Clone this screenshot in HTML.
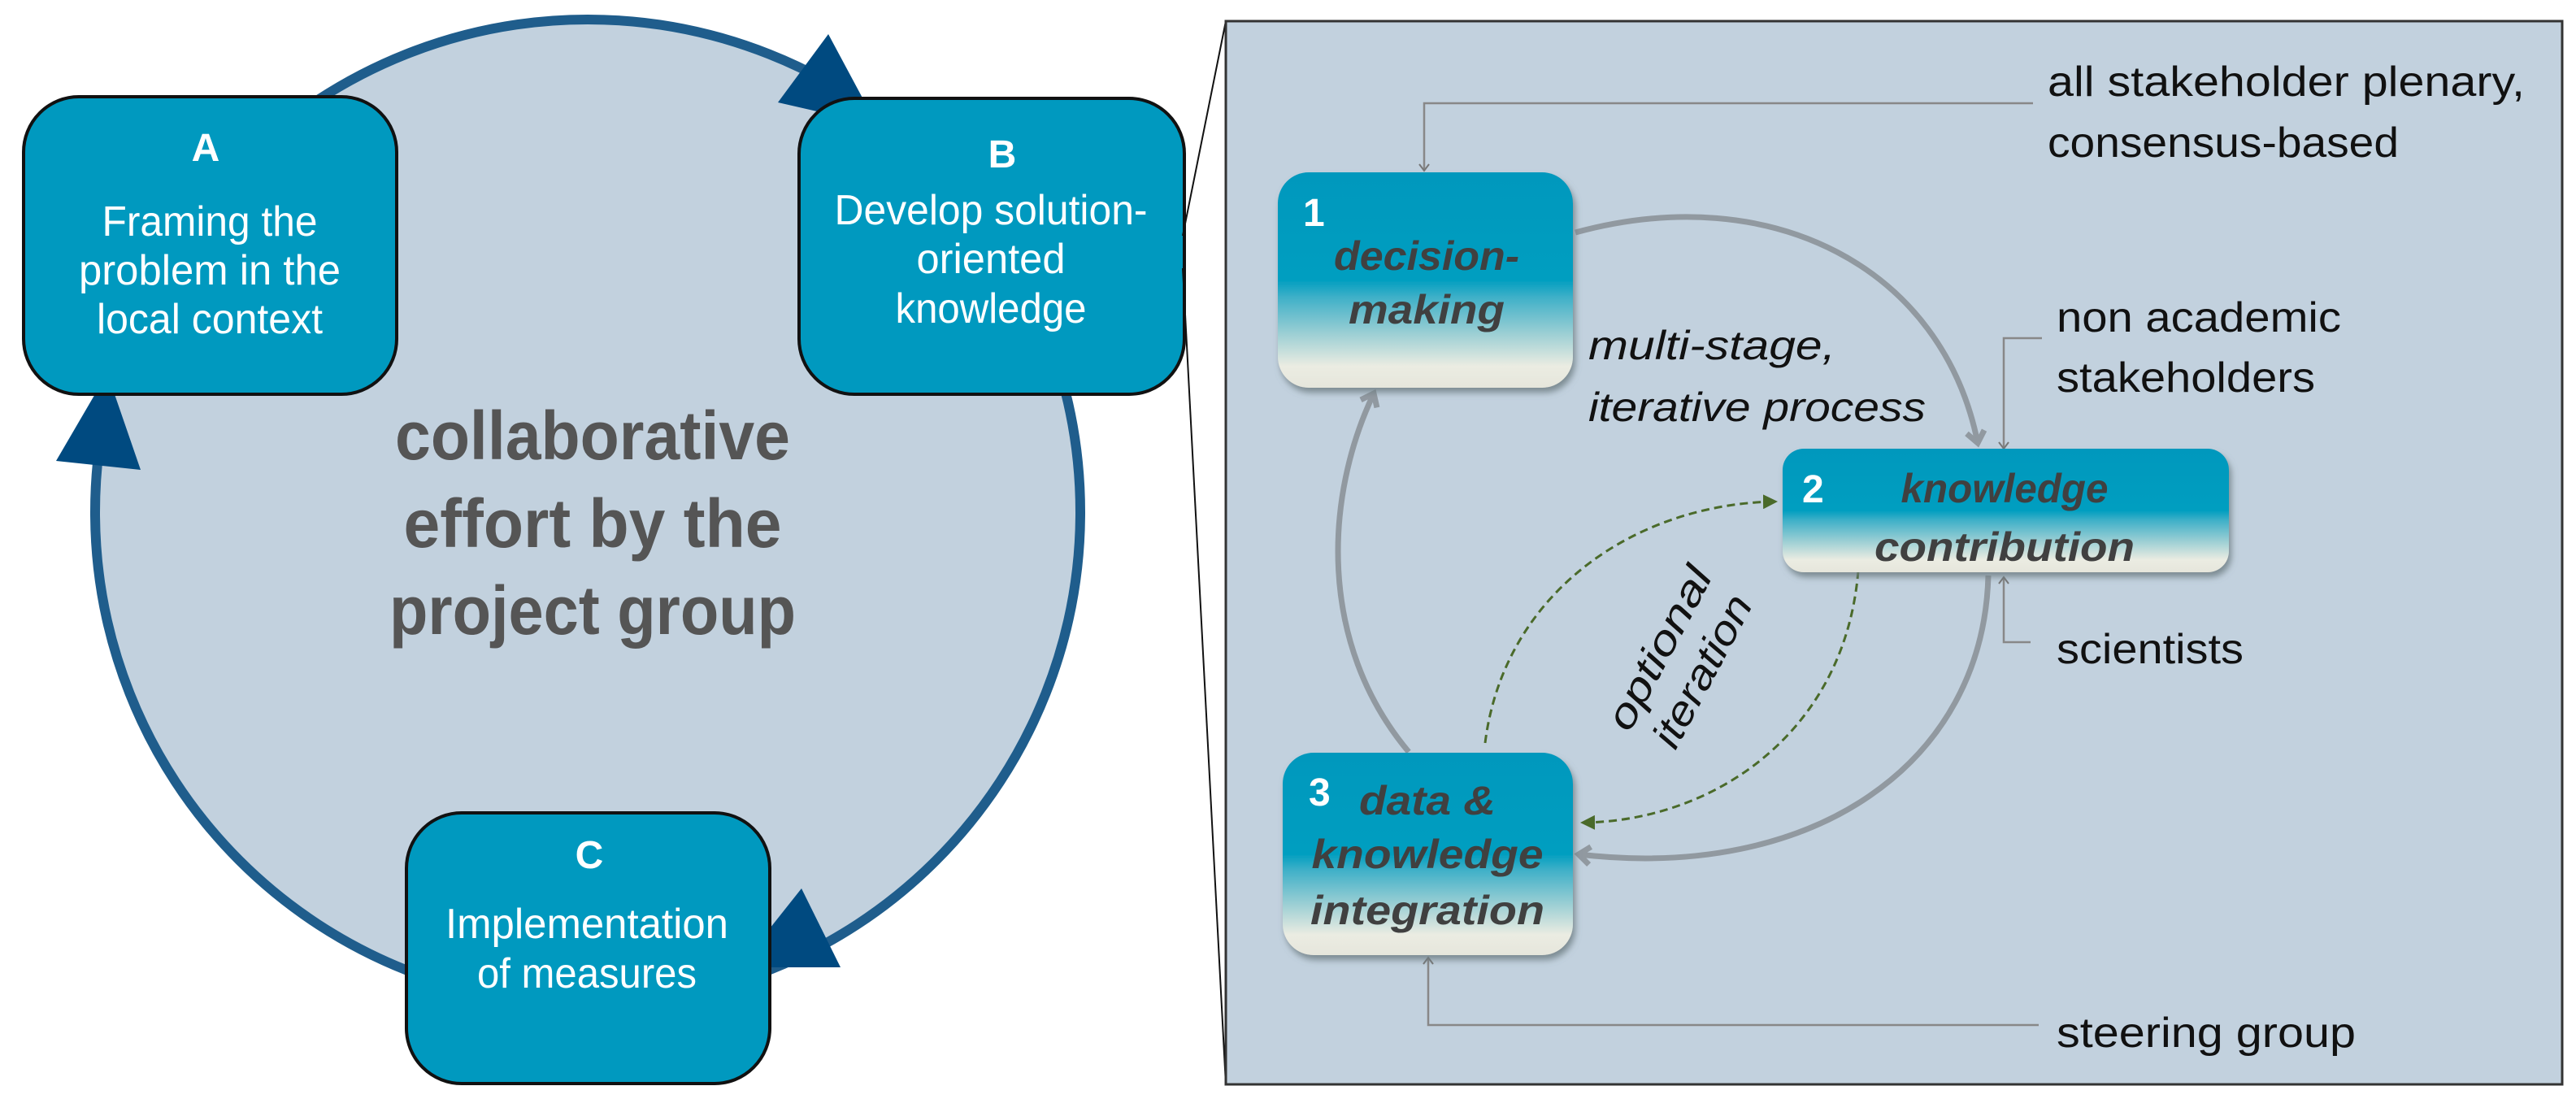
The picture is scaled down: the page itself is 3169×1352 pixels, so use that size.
<!DOCTYPE html>
<html><head><meta charset="utf-8"><style>
html,body{margin:0;padding:0;background:#fff;}
svg{display:block;}
text{font-family:"Liberation Sans",sans-serif;}
</style></head><body>
<svg width="3169" height="1352" viewBox="0 0 3169 1352" xmlns="http://www.w3.org/2000/svg">
<defs>
<linearGradient id="g" x1="0" y1="0" x2="0" y2="1">
<stop offset="0" stop-color="#0098bd"/>
<stop offset="0.5" stop-color="#009ec0"/>
<stop offset="0.58" stop-color="#3fb0c8"/>
<stop offset="0.75" stop-color="#9ccfd4"/>
<stop offset="0.9" stop-color="#ebece2"/>
<stop offset="1" stop-color="#e6e6dc"/>
</linearGradient>
<filter id="sh" x="-10%" y="-10%" width="125%" height="130%">
<feDropShadow dx="3" dy="6" stdDeviation="4" flood-color="#6a7a80" flood-opacity="0.8"/>
</filter>
<marker id="ag" markerWidth="30" markerHeight="30" refX="20" refY="15" orient="auto" markerUnits="userSpaceOnUse">
<path d="M6,4 L20,15 L6,26" fill="none" stroke="#9199a0" stroke-width="7"/>
</marker>
<marker id="at" markerWidth="14" markerHeight="14" refX="10" refY="7" orient="auto" markerUnits="userSpaceOnUse">
<path d="M2,1 L10,7 L2,13" fill="none" stroke="#777" stroke-width="2"/>
</marker>
<marker id="agr" markerWidth="6" markerHeight="6" refX="5" refY="3" orient="auto" markerUnits="strokeWidth">
<path d="M0,0 L6,3 L0,6 Z" fill="#4a6a2a"/>
</marker>
</defs>

<circle cx="723" cy="630" r="606" fill="#c2d1de" stroke="#1f5d8c" stroke-width="12"/>
<polygon points="957,126 1019,42 1079,154" fill="#004a80"/>
<polygon points="69,567 132,459 173,578" fill="#004a80"/>
<polygon points="909,1190 986,1093 1034,1190" fill="#004a80"/>

<rect x="29" y="119" width="459" height="366" rx="68" fill="#0099bf" stroke="#111" stroke-width="4"/>
<rect x="983" y="121" width="474" height="364" rx="68" fill="#0099bf" stroke="#111" stroke-width="4"/>
<rect x="500" y="1000" width="447" height="333" rx="68" fill="#0099bf" stroke="#111" stroke-width="4"/>
<g fill="#fff" font-size="52" text-anchor="middle">
<text x="253" y="198" font-weight="bold" font-size="48">A</text>
<text x="258" y="290" textLength="265" lengthAdjust="spacingAndGlyphs">Framing the</text>
<text x="258" y="350" textLength="322" lengthAdjust="spacingAndGlyphs">problem in the</text>
<text x="258" y="410" textLength="278" lengthAdjust="spacingAndGlyphs">local context</text>
<text x="1233" y="206" font-weight="bold" font-size="48">B</text>
<text x="1219" y="276" textLength="385" lengthAdjust="spacingAndGlyphs">Develop solution-</text>
<text x="1219" y="336" textLength="183" lengthAdjust="spacingAndGlyphs">oriented</text>
<text x="1219" y="397" textLength="235" lengthAdjust="spacingAndGlyphs">knowledge</text>
<text x="725" y="1068" font-weight="bold" font-size="48">C</text>
<text x="722" y="1154" textLength="348" lengthAdjust="spacingAndGlyphs">Implementation</text>
<text x="722" y="1215" textLength="270" lengthAdjust="spacingAndGlyphs">of measures</text>
</g>
<g fill="#555" font-size="84" font-weight="bold" text-anchor="middle">
<text x="729" y="565" textLength="486" lengthAdjust="spacingAndGlyphs">collaborative</text>
<text x="729" y="673" textLength="465" lengthAdjust="spacingAndGlyphs">effort by the</text>
<text x="729" y="780" textLength="500" lengthAdjust="spacingAndGlyphs">project group</text>
</g>

<line x1="1455" y1="290" x2="1508" y2="26" stroke="#111" stroke-width="2"/>
<line x1="1455" y1="330" x2="1508" y2="1334" stroke="#111" stroke-width="2"/>

<rect x="1508" y="26" width="1644" height="1308" fill="#c2d1de" stroke="#333" stroke-width="3"/>

<g fill="none" stroke="#888" stroke-width="2.5">
<polyline points="2501,127 1752,127 1752,210" marker-end="url(#at)"/>
<polyline points="2512,416 2465,416 2465,552" marker-end="url(#at)"/>
<polyline points="2498,790 2465,790 2465,710" marker-end="url(#at)"/>
<polyline points="2508,1261 1757,1261 1757,1178" marker-end="url(#at)"/>
</g>

<g fill="none" stroke="#9199a0" stroke-width="7">
<path d="M1938,286 C2180,220 2390,330 2433,545" marker-end="url(#ag)"/>
<path d="M2446,708 C2440,940 2230,1085 1942,1051" marker-end="url(#ag)"/>
<path d="M1733,925 C1620,790 1630,610 1690,484" marker-end="url(#ag)"/>
</g>
<g fill="none" stroke="#4a6a2a" stroke-width="3" stroke-dasharray="10,6">
<path d="M1827,914 C1850,730 2010,620 2184,617" marker-end="url(#agr)"/>
<path d="M2286,702 C2270,900 2110,1010 1947,1012" marker-end="url(#agr)"/>
</g>

<g filter="url(#sh)">
<rect x="1572" y="212" width="363" height="265" rx="38" fill="url(#g)"/>
<rect x="2193" y="552" width="549" height="152" rx="26" fill="url(#g)"/>
<rect x="1578" y="926" width="357" height="249" rx="38" fill="url(#g)"/>
</g>
<g fill="#fff" font-weight="bold" font-size="48">
<text x="1603" y="278">1</text>
<text x="2217" y="618">2</text>
<text x="1610" y="991">3</text>
</g>
<g fill="#404040" font-weight="bold" font-style="italic" font-size="50" text-anchor="middle">
<text x="1755" y="332" textLength="228" lengthAdjust="spacingAndGlyphs">decision-</text>
<text x="1755" y="398" textLength="192" lengthAdjust="spacingAndGlyphs">making</text>
<text x="2466" y="618" textLength="255" lengthAdjust="spacingAndGlyphs">knowledge</text>
<text x="2466" y="690" textLength="320" lengthAdjust="spacingAndGlyphs">contribution</text>
<text x="1756" y="1002" textLength="168" lengthAdjust="spacingAndGlyphs">data &amp;</text>
<text x="1756" y="1068" textLength="285" lengthAdjust="spacingAndGlyphs">knowledge</text>
<text x="1756" y="1137" textLength="288" lengthAdjust="spacingAndGlyphs">integration</text>
</g>

<g fill="#111" font-size="52">
<text x="2519" y="118" textLength="587" lengthAdjust="spacingAndGlyphs">all stakeholder plenary,</text>
<text x="2519" y="193" textLength="432" lengthAdjust="spacingAndGlyphs">consensus-based</text>
<text x="2530" y="408" textLength="350" lengthAdjust="spacingAndGlyphs">non academic</text>
<text x="2530" y="482" textLength="318" lengthAdjust="spacingAndGlyphs">stakeholders</text>
<text x="2530" y="816" textLength="230" lengthAdjust="spacingAndGlyphs">scientists</text>
<text x="2530" y="1288" textLength="368" lengthAdjust="spacingAndGlyphs">steering group</text>
</g>
<g fill="#111" font-size="50" font-style="italic">
<text x="1954" y="442" textLength="304" lengthAdjust="spacingAndGlyphs">multi-stage,</text>
<text x="1954" y="518" textLength="415" lengthAdjust="spacingAndGlyphs">iterative process</text>
</g>
<g fill="#111" font-size="50" font-style="italic" text-anchor="middle" transform="translate(2065,810) rotate(-62)">
<text x="0" y="-10" textLength="220" lengthAdjust="spacingAndGlyphs">optional</text>
<text x="0" y="50" textLength="205" lengthAdjust="spacingAndGlyphs">iteration</text>
</g>
</svg>
</body></html>
